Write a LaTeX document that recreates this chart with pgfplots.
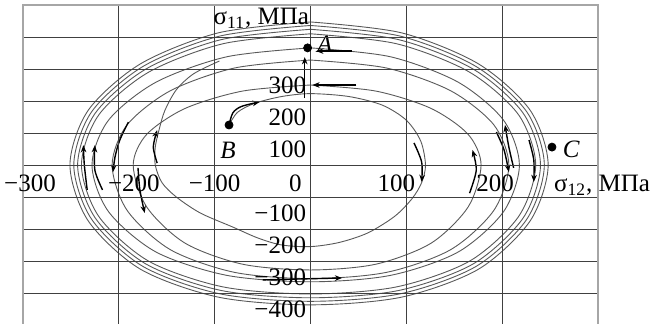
\documentclass[border=0pt]{standalone}
\usepackage{fontspec}
\setmainfont{Liberation Serif}
\usepackage{pgfplots}
\pgfplotsset{compat=1.18}
\usetikzlibrary{arrows.meta}
\begin{document}
\begin{tikzpicture}[font=\fontsize{12.5}{14}\selectfont]
\useasboundingbox (0,0) rectangle (325pt,161.5pt);
\begin{axis}[
  at={(11.5pt,-1pt)}, anchor=south west,
  scale only axis, width=287.5pt, height=160pt,
  xmin=-300, xmax=300, ymin=-500, ymax=500,
  xtick={-300,-200,...,300}, ytick={-400,-300,...,500},
  xticklabels={{\hspace*{7pt}−300},{\hspace*{15pt}−200},{−100},{0\hspace*{15pt}},{100\hspace*{10pt}},{200\hspace*{7pt}},{}},
  yticklabels={{−400},{−300},{−200},{−100},{},{100},{200},{300},{},{}},
  grid=major, major grid style={black!75, line width=0.42pt},
  axis line style={black!35, line width=0.6pt},
  major tick length=0pt,
  axis on top,
  clip=false,
  xticklabel style={anchor=north, inner sep=0pt, yshift=75.5pt},
  yticklabel style={anchor=north east, inner sep=0pt, xshift=141.75pt, yshift=-3.5pt},
  xlabel={σ\textsubscript{12}, МПа}, ylabel={σ\textsubscript{11}, МПа},
  every axis x label/.style={at={(axis description cs:0.923,0.416)}, anchor=base west, inner sep=0pt},
  every axis y label/.style={at={(axis description cs:0.498,0.9375)}, anchor=base east, inner sep=0pt},
  ell/.style={black!65, line width=0.45pt, smooth, no markers},
  arr/.style={black, line width=0.7pt, smooth, no markers, -{Stealth[length=3.6pt,width=2.8pt]}},
]
% outer loops
\addplot[ell] coordinates {(0,447) (95.0,413.0) (175.3,316.0) (229.2,171.2) (248,0) (229.2,-174.8) (175.3,-325.6) (95.0,-413.0) (0,-437) (-96.1,-413.0) (-177.5,-325.6) (-231.9,-174.8) (-251,0) (-231.9,171.2) (-177.5,316.0) (-96.1,413.0) (0,447)};
\addplot[ell] coordinates {(0,436) (93.5,402.9) (172.5,308.3) (225.5,167.0) (244,0) (225.5,-170.4) (172.5,-317.4) (93.5,-402.6) (0,-426) (-94.6,-402.6) (-174.6,-317.4) (-228.2,-170.4) (-247,0) (-228.2,167.0) (-174.6,308.3) (-94.6,402.9) (0,436)};
\addplot[ell] coordinates {(0,424) (91.9,391.8) (169.7,299.8) (221.8,162.4) (240,0) (221.8,-166.0) (169.7,-309.2) (91.9,-392.2) (0,-415) (-93.1,-392.2) (-171.8,-309.2) (-224.5,-166.0) (-243,0) (-224.5,162.4) (-171.8,299.8) (-93.1,391.8) (0,424)};
\addplot[ell] coordinates {(0,410) (90.0,378.8) (166.1,289.9) (217.1,157.0) (235,0) (217.1,-161.2) (166.1,-300.2) (90.0,-380.8) (0,-403) (-91.5,-380.8) (-169.0,-300.2) (-220.8,-161.2) (-239,0) (-220.8,157.0) (-169.0,289.9) (-91.5,378.8) (0,410)};
% middle loops
\addplot[ell] coordinates {(0,366) (83.5,338.2) (154.1,258.8) (201.4,140.2) (218,0) (201.4,-146.0) (154.1,-271.9) (83.5,-344.9) (0,-365) (-87.3,-344.9) (-161.2,-271.9) (-210.7,-146.0) (-228,0) (-210.7,140.2) (-161.2,258.8) (-87.3,338.2) (0,366)};
\addplot[ell] coordinates {(0,328) (79.3,303.1) (146.3,231.9) (191.3,125.6) (207,0) (191.3,-142.0) (146.3,-264.5) (79.3,-335.5) (0,-355) (-79.3,-335.5) (-146.3,-264.5) (-191.3,-142.0) (-207,0) (-191.3,125.6) (-146.3,231.9) (-79.3,303.1) (0,328)};
\addplot[ell] coordinates {(0,250) (68.2,231.0) (125.8,176.8) (164.5,95.8) (178,0) (164.5,-131.2) (125.8,-244.4) (68.2,-310.0) (0,-328) (-70.9,-310.0) (-130.8,-244.4) (-170.9,-131.2) (-185,0) (-170.9,95.8) (-130.8,176.8) (-70.9,231.0) (0,250)};
% inner spiral from B
\addplot[ell] coordinates {(-85,125) (-76,165) (-58,193) (-30,214) (0,223) (40,214) (75,187) (100,140) (115,75) (120,0) (116,-55) (106,-105) (88,-160) (60,-212) (30,-242) (0,-255) (-30,-250) (-55,-228) (-81,-194) (-115,-150) (-140,-100) (-155,-55) (-162,0) (-162,55) (-158,110) (-152,170) (-140,235) (-122,285) (-95,325)};
% arrows
\addplot[arr] coordinates {(-85,125) (-81,163) (-72,183) (-53,197)};
\addplot[arr] coordinates {(-6,209) (-6,337)};
\addplot[arr] coordinates {(43,356) (6,356)};
\addplot[arr] coordinates {(48,250) (2,250)};
\addplot[arr] coordinates {(-233,-78) (-236,0) (-237,62)};
\addplot[arr] coordinates {(-217,-78) (-225,-16) (-225,62)};
\addplot[arr] coordinates {(-190,134) (-199,78) (-204,25) (-206,-22)};
\addplot[arr] coordinates {(-180,-9) (-178,-78) (-173,-150)};
\addplot[arr] coordinates {(-160,6) (-164,56) (-160,109)};
\addplot[arr] coordinates {(108,69) (116,9) (116,-53)};
\addplot[arr] coordinates {(166,-88) (173,-16) (169,47)};
\addplot[arr] coordinates {(194,103) (202,47) (207,-22)};
\addplot[arr] coordinates {(212,-9) (207,56) (203,125)};
\addplot[arr] coordinates {(228,78) (233,16) (233,-53)};
\addplot[arr] coordinates {(-50,-359) (33,-353)};
% points
\addplot[only marks, mark=*, mark size=2pt, black] coordinates {(-3,366) (-85,125) (252,56)};
\node[font=\fontsize{12.5}{14}\selectfont\itshape] at (axis cs:15,378) {A};
\node[font=\fontsize{12.5}{14}\selectfont\itshape] at (axis cs:-86,47) {B};
\node[font=\fontsize{12.5}{14}\selectfont\itshape] at (axis cs:272,50) {C};
\end{axis}
\end{tikzpicture}
\end{document}
